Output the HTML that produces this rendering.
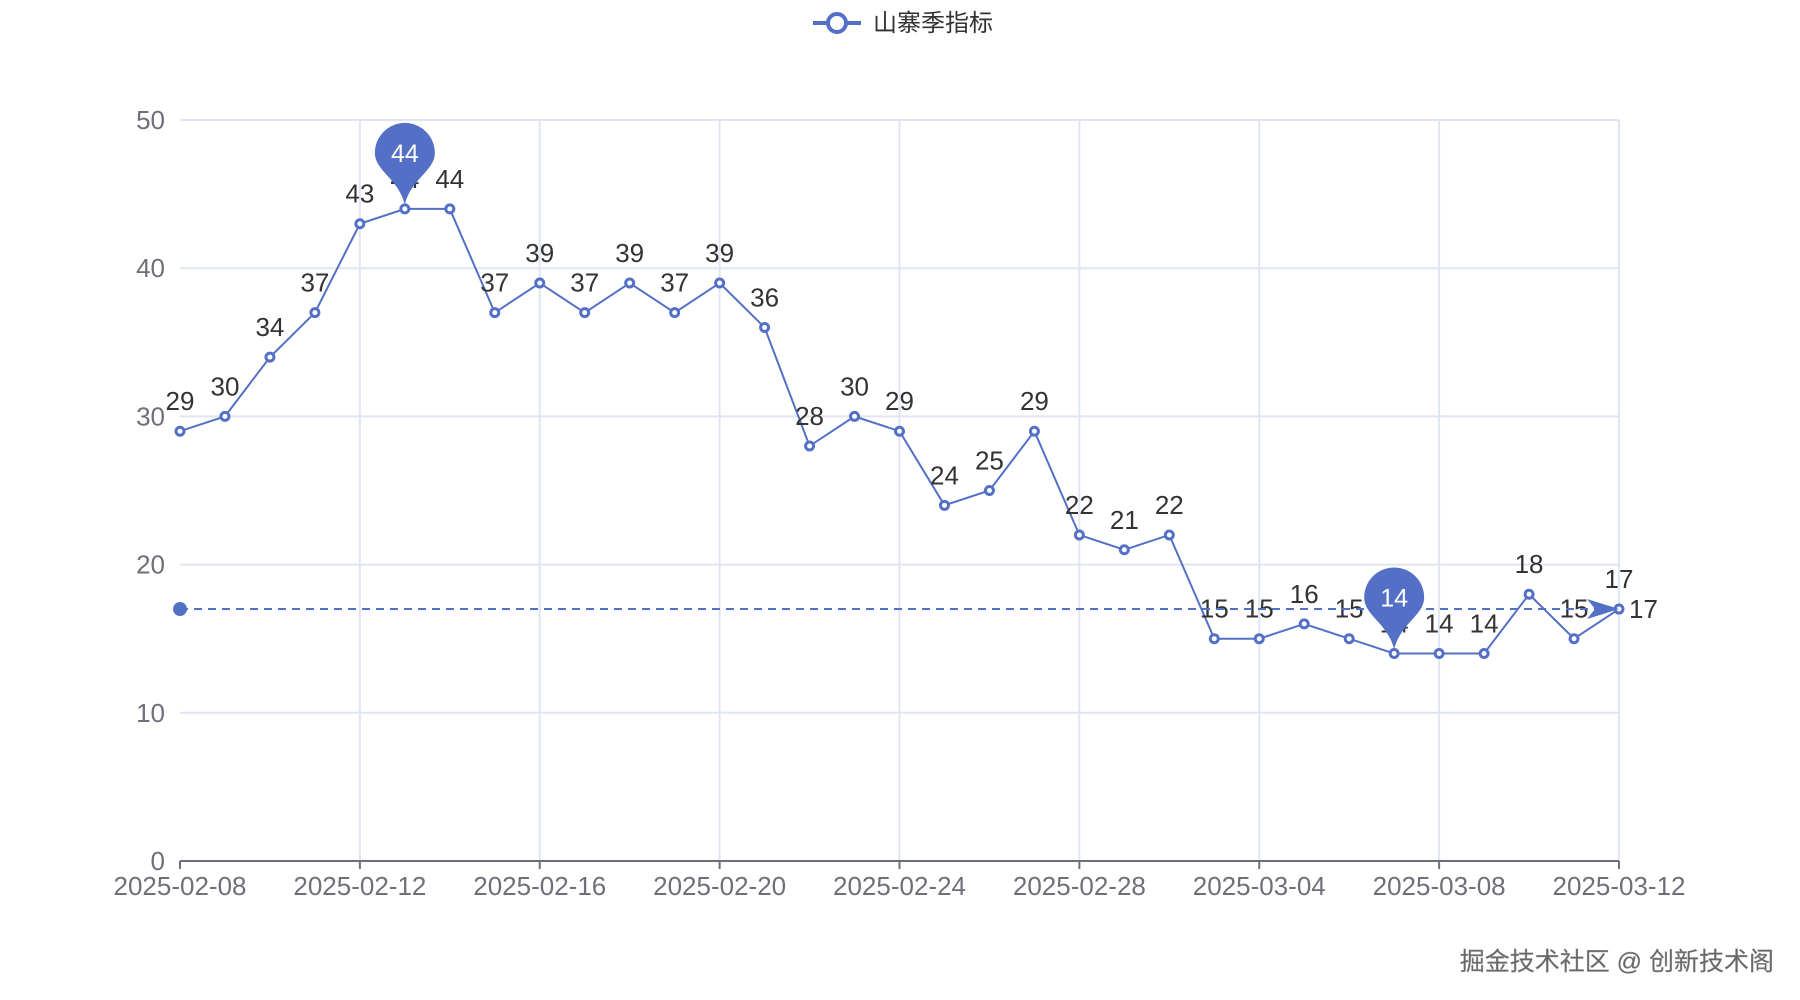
<!DOCTYPE html>
<html><head><meta charset="utf-8"><style>
html,body{margin:0;padding:0;background:#fff;}
svg{display:block;font-family:"Liberation Sans","Noto Sans CJK SC",sans-serif;}
</style></head><body>
<svg id="chart" width="1800" height="1000" viewBox="0 0 1800 1000">
<g>
<line x1="813" y1="23" x2="861" y2="23" stroke="#5470c6" stroke-width="4"/>
<circle cx="837" cy="23" r="9" fill="#fff" stroke="#5470c6" stroke-width="4"/>
<text x="873" y="31" font-size="24" fill="#333">山寨季指标</text>
</g>
<g id="grid"></g>
<g id="axes"></g>
<g id="series"></g>
<g id="marks"></g>
<text x="1774" y="970" text-anchor="end" font-size="25" fill="#666" stroke="#999" stroke-width="0.4">掘金技术社区 @ 创新技术阁</text>
</svg>
<script>
const dates=["2025-02-08","2025-02-09","2025-02-10","2025-02-11","2025-02-12","2025-02-13","2025-02-14","2025-02-15","2025-02-16","2025-02-17","2025-02-18","2025-02-19","2025-02-20","2025-02-21","2025-02-22","2025-02-23","2025-02-24","2025-02-25","2025-02-26","2025-02-27","2025-02-28","2025-03-01","2025-03-02","2025-03-03","2025-03-04","2025-03-05","2025-03-06","2025-03-07","2025-03-08","2025-03-09","2025-03-10","2025-03-11","2025-03-12"];
const values=[29,30,34,37,43,44,44,37,39,37,39,37,39,36,28,30,29,24,25,29,22,21,22,15,15,16,15,14,14,14,18,15,17];
const yTicks=[0,10,20,30,40,50];
const markLineValue=17;
const maxIndex=5, minIndex=27;

const NS="http://www.w3.org/2000/svg";
const L=180,R=1619,T=120,B=861;
const xS=i=>L+(R-L)*i/(dates.length-1);
const yS=v=>B-(B-T)*v/50;
function mk(tag,attrs,parent,txt){const e=document.createElementNS(NS,tag);for(const k in attrs)e.setAttribute(k,attrs[k]);if(txt!==undefined)e.textContent=txt;parent.appendChild(e);return e;}
const grid=document.getElementById('grid'),axes=document.getElementById('axes'),series=document.getElementById('series'),marks=document.getElementById('marks');

yTicks.forEach(v=>{
  if(v>0){const g=mk('line',{x1:L,x2:R,y1:yS(v),y2:yS(v),stroke:'#e0e6f1','stroke-width':2},grid);
  
  }
  const t=mk('text',{x:L-15,y:yS(v)+9,'text-anchor':'end','font-size':26,fill:'#6e7079'},axes,String(v));
  
  
});
dates.forEach((d,i)=>{
  if(i%4!==0)return;
  if(i>0){const g=mk('line',{x1:xS(i),x2:xS(i),y1:T,y2:B,stroke:'#e0e6f1','stroke-width':2},grid);
  
  }
  mk('line',{x1:xS(i),x2:xS(i),y1:B,y2:B+8,stroke:'#6e7079','stroke-width':2},axes);
  const t=mk('text',{x:xS(i),y:B+34,'text-anchor':'middle','font-size':26,fill:'#6e7079'},axes,d);
  
  
});
const ax=mk('line',{x1:L,x2:R,y1:B,y2:B,stroke:'#6e7079','stroke-width':2},axes);



const my=yS(markLineValue);
const ml=mk('line',{x1:L,x2:xS(dates.length-1)-6,y1:my,y2:my,stroke:'#5470c6','stroke-width':2,'stroke-dasharray':'8,6'},marks);


const md=mk('circle',{cx:L,cy:my,r:7,fill:'#5470c6'},marks);


const ex=xS(dates.length-1);
const ar=mk('path',{d:`M${ex} ${my} L${ex-32} ${my-10} L${ex-24} ${my} L${ex-32} ${my+10} Z`,fill:'#5470c6'},marks);


const mlt=mk('text',{x:ex+10,y:my+9,'font-size':26,fill:'#333'},marks,String(markLineValue));



const line=mk('polyline',{points:values.map((v,i)=>xS(i)+','+yS(v)).join(' '),fill:'none',stroke:'#5470c6','stroke-width':2},series);


values.forEach((v,i)=>{
  const c=mk('circle',{cx:xS(i),cy:yS(v),r:4,fill:'#fff',stroke:'#5470c6','stroke-width':3},series);
  
  
  const t=mk('text',{x:xS(i),y:yS(v)-21,'text-anchor':'middle','font-size':26,fill:'#333'},series,String(v));
  
  
});
function pin(i,name){
  const x=xS(i),y=yS(values[i]),cy=y-56,r=30;
  const g=mk('g',{},marks);
  
  
  mk('path',{d:`M${x} ${y-4} C${x-6} ${cy+26} ${x-r} ${cy+18} ${x-r} ${cy} A${r} ${r} 0 1 1 ${x+r} ${cy} C${x+r} ${cy+18} ${x+6} ${cy+26} ${x} ${y-4} Z`,fill:'#5470c6'},g);
  mk('text',{x:x,y:cy+9,'text-anchor':'middle','font-size':25,fill:'#fff'},g,String(values[i]));
}
pin(maxIndex,'max-pin');
pin(minIndex,'min-pin');
</script>
</body></html>
